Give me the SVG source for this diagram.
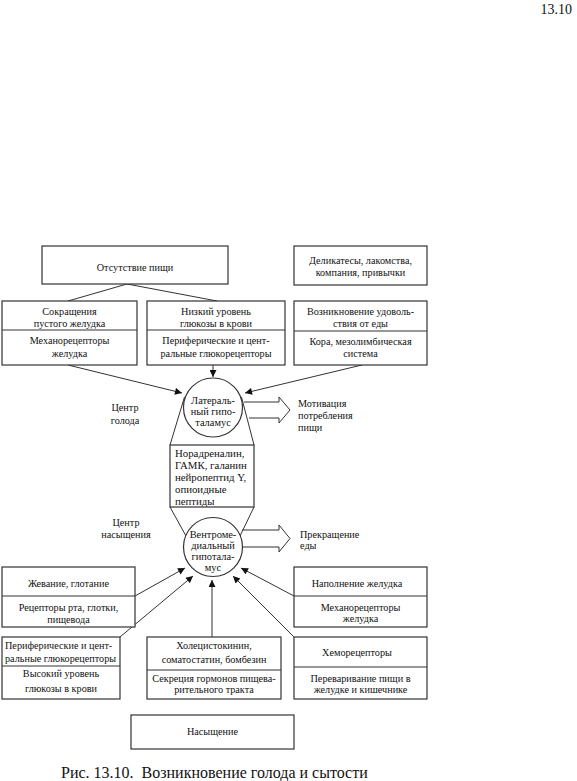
<svg xmlns="http://www.w3.org/2000/svg" width="577" height="781" viewBox="0 0 577 781">
<defs>
<marker id="ah" viewBox="0 0 10 10" refX="10" refY="5" markerWidth="9" markerHeight="7" markerUnits="userSpaceOnUse" orient="auto">
<path d="M0,0 L10,5 L0,10 z" fill="#111"/>
</marker>
<style>
text{font-family:"Liberation Serif","Times New Roman","DejaVu Serif",serif;font-size:10.2px;fill:#111}
.c{text-anchor:middle}
.box{fill:#fff;stroke:#333;stroke-width:1.2}
.ln{stroke:#333;stroke-width:1;fill:none}
.ar{stroke:#333;stroke-width:1;fill:none;marker-end:url(#ah)}
.big{font-size:10.8px}
.cir{font-size:10.4px}
.cap{font-size:16px}
</style>
</defs>
<rect width="577" height="781" fill="#fff"/>
<text x="572" y="14" style="font-size:14px;text-anchor:end">13.10</text>

<g id="connectors">
<line class="ln" x1="127" y1="284" x2="68" y2="301"/>
<line class="ln" x1="127" y1="284" x2="217" y2="301"/>
<line class="ar" x1="68" y1="365" x2="182" y2="393"/>
<line class="ar" x1="213" y1="365" x2="213" y2="377"/>
<line class="ar" x1="362" y1="365" x2="245" y2="393"/>
<line class="ln" x1="184.5" y1="397" x2="170" y2="445"/>
<line class="ln" x1="241.5" y1="397" x2="254" y2="445"/>
<line class="ln" x1="170" y1="507" x2="186" y2="536"/>
<line class="ln" x1="254" y1="507" x2="240" y2="536"/>
<path class="ln" d="M244,402 L279,402 L279,397 L290,410 L279,423 L279,418 L249,418"/>
<path class="ln" d="M242,530 L279,530 L279,525 L290,538.5 L279,552 L279,547 L242,547"/>
<line class="ar" x1="135" y1="596" x2="185" y2="568"/>
<line class="ar" x1="120" y1="637" x2="193" y2="576"/>
<line class="ar" x1="212" y1="637" x2="212" y2="580"/>
<line class="ar" x1="294" y1="637" x2="233" y2="576"/>
<line class="ar" x1="294" y1="596" x2="241" y2="568"/>
</g>

<g id="n-absence">
<rect class="box" x="42" y="246" width="186" height="38"/>
<text class="c" x="135" y="271">Отсутствие пищи</text>
</g>
<g id="n-delicacies">
<rect class="box" x="294" y="246" width="133" height="39"/>
<text class="c" x="360.5" y="264">Деликатесы, лакомства,</text>
<text class="c" x="360.5" y="276">компания, привычки</text>
</g>
<g id="n-stomach-contraction">
<rect class="box" x="2" y="301" width="135" height="64"/>
<line class="ln" x1="2" y1="330" x2="137" y2="330"/>
<text class="c" x="69.5" y="315">Сокращения</text>
<text class="c" x="69.5" y="327">пустого желудка</text>
<text class="c" x="69.5" y="344">Механорецепторы</text>
<text class="c" x="69.5" y="357">желудка</text>
</g>
<g id="n-low-glucose">
<rect class="box" x="147" y="301" width="138" height="64"/>
<line class="ln" x1="147" y1="330" x2="285" y2="330"/>
<text class="c" x="216" y="315">Низкий уровень</text>
<text class="c" x="216" y="327">глюкозы в крови</text>
<text class="c" x="216" y="344">Периферические и цент-</text>
<text class="c" x="216" y="357">ральные глюкорецепторы</text>
</g>
<g id="n-pleasure">
<rect class="box" x="294" y="301" width="133" height="64"/>
<line class="ln" x1="294" y1="331" x2="427" y2="331"/>
<text class="c" x="360.5" y="315">Возникновение удоволь-</text>
<text class="c" x="360.5" y="327">ствия от еды</text>
<text class="c" x="360.5" y="345">Кора, мезолимбическая</text>
<text class="c" x="360.5" y="357">система</text>
</g>

<g id="n-lateral">
<circle class="box" cx="213" cy="407.5" r="29.5"/>
<text class="c cir" x="213" y="404">Латераль-</text>
<text class="c cir" x="213" y="415">ный гипо-</text>
<text class="c cir" x="213" y="426">таламус</text>
</g>
<g id="l-hunger">
<text class="c" x="125" y="411">Центр</text>
<text class="c" x="125" y="424">голода</text>
</g>
<g id="l-motivation">
<text x="298" y="407">Мотивация</text>
<text x="298" y="419">потребления</text>
<text x="298" y="431">пищи</text>
</g>

<g id="n-neuro">
<rect class="box" x="170" y="445" width="84" height="62"/>
<text class="big" x="175" y="457">Норадреналин,</text>
<text class="big" x="175" y="469">ГАМК, галанин</text>
<text class="big" x="175" y="481">нейропептид Y,</text>
<text class="big" x="175" y="493">опиоидные</text>
<text class="big" x="175" y="505">пептиды</text>
</g>

<g id="l-satiety-center">
<text class="c" x="126" y="526">Центр</text>
<text class="c" x="126" y="538">насыщения</text>
</g>
<g id="n-ventromedial">
<circle class="box" cx="213" cy="547" r="29.5"/>
<text class="c cir" x="213" y="538">Вентроме-</text>
<text class="c cir" x="213" y="549">диальный</text>
<text class="c cir" x="213" y="560">гипотала-</text>
<text class="c cir" x="213" y="571">мус</text>
</g>
<g id="l-stop">
<text x="300" y="538">Прекращение</text>
<text x="300" y="549">еды</text>
</g>

<g id="n-chewing">
<rect class="box" x="2" y="567" width="133" height="60"/>
<line class="ln" x1="2" y1="596" x2="135" y2="596"/>
<text class="c" x="68.5" y="587">Жевание, глотание</text>
<text class="c" x="68.5" y="611">Рецепторы рта, глотки,</text>
<text class="c" x="68.5" y="623">пищевода</text>
</g>
<g id="n-filling">
<rect class="box" x="294" y="567" width="133" height="60"/>
<line class="ln" x1="294" y1="596" x2="427" y2="596"/>
<text class="c" x="357" y="587">Наполнение желудка</text>
<text class="c" x="360.5" y="611">Механорецепторы</text>
<text class="c" x="360.5" y="622">желудка</text>
</g>
<g id="n-high-glucose">
<rect class="box" x="2" y="637" width="118" height="62"/>
<line class="ln" x1="2" y1="666" x2="120" y2="666"/>
<text x="5" y="649">Периферические и цент-</text>
<text x="5" y="662">ральные глюкорецепторы</text>
<text class="c" x="61" y="677">Высокий уровень</text>
<text class="c" x="61" y="692">глюкозы в крови</text>
</g>
<g id="n-hormones">
<rect class="box" x="147" y="637" width="134" height="62"/>
<line class="ln" x1="147" y1="670" x2="281" y2="670"/>
<text class="c" x="214" y="649">Холецистокинин,</text>
<text class="c" x="214" y="663">соматостатин, бомбезин</text>
<text class="c" x="214" y="682">Секреция гормонов пищева-</text>
<text class="c" x="214" y="693">рительного тракта</text>
</g>
<g id="n-chemo">
<rect class="box" x="294" y="637" width="133" height="62"/>
<line class="ln" x1="294" y1="667" x2="427" y2="667"/>
<text class="c" x="357" y="656">Хеморецепторы</text>
<text class="c" x="360.5" y="682">Переваривание пищи в</text>
<text class="c" x="360.5" y="693">желудке и кишечнике</text>
</g>
<g id="n-satiety">
<rect class="box" x="131" y="715" width="163" height="34"/>
<text class="c" x="212.5" y="735">Насыщение</text>
</g>
<text class="cap" x="61" y="778" xml:space="preserve">Рис. 13.10.  Возникновение голода и сытости</text>
</svg>
